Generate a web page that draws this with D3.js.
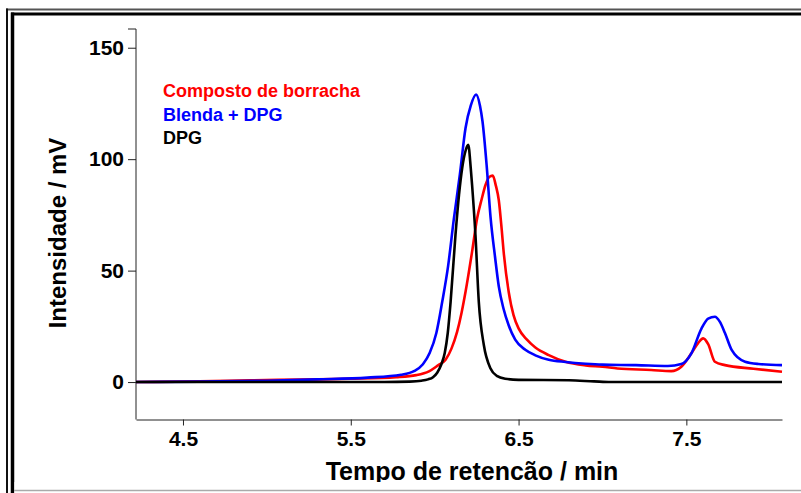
<!DOCTYPE html>
<html>
<head>
<meta charset="utf-8">
<script src="https://cdn.jsdelivr.net/npm/d3@7"></script>
<style>
  html, body { margin: 0; padding: 0; background: #fff; }
  svg { display: block; }
  text { font-family: "Liberation Sans", Arial, sans-serif; font-weight: bold; }
</style>
</head>
<body>
<svg id="chart" width="801" height="493"></svg>
<script>
// Retention time (min) and signal (mV) for each chromatogram
const compostoTime = [4.22, 4.6, 4.9, 5.2, 5.5, 5.77, 5.89, 5.966, 6.02, 6.065, 6.1, 6.134, 6.16, 6.184, 6.223, 6.253, 6.28, 6.303, 6.325, 6.346, 6.365, 6.382, 6.4, 6.411, 6.441, 6.47, 6.5, 6.55, 6.6, 6.68, 6.78, 6.9, 7.0, 7.09, 7.29, 7.41, 7.47, 7.53, 7.57, 7.6, 7.63, 7.67, 7.73, 7.9, 8.07];
const compostoSignal = [0.0, 0.3, 0.8, 1.1, 1.5, 2.2, 3.1, 4.8, 7.5, 10, 15, 22.6, 31, 40.5, 58.5, 73.5, 82, 88.4, 92, 92.6, 88, 81.7, 68, 58.5, 40.5, 30, 24.1, 19, 15.5, 12.1, 9.1, 7.5, 6.9, 6.1, 5.4, 4.9, 6.9, 12.9, 17.5, 19.6, 17, 9.1, 7.6, 6.0, 4.6];

const blendaTime = [4.22, 4.6, 5.0, 5.3, 5.6, 5.8, 5.88, 5.93, 5.97, 6.01, 6.045, 6.08, 6.114, 6.15, 6.184, 6.215, 6.247, 6.27, 6.285, 6.31, 6.333, 6.36, 6.382, 6.41, 6.441, 6.48, 6.54, 6.6, 6.68, 6.78, 6.9, 7.0, 7.2, 7.39, 7.47, 7.53, 7.59, 7.63, 7.67, 7.7, 7.73, 7.77, 7.85, 7.93, 8.07];
const blendaSignal = [0.0, 0.2, 0.6, 1.2, 2.0, 3.3, 5.0, 8.0, 13, 22, 36, 52, 73, 93, 114, 124, 129, 124, 117, 97, 74, 56, 43, 33, 25.5, 19, 14.5, 12, 10, 9.0, 8.2, 7.8, 7.6, 7.2, 8.1, 12.9, 24, 28.5, 29.3, 27, 22, 14.4, 9.1, 8.1, 7.6];

const dpgTime = [4.22, 5.7, 5.85, 5.92, 5.96, 5.99, 6.015, 6.04, 6.06, 6.078, 6.095, 6.124, 6.145, 6.164, 6.185, 6.2, 6.215, 6.223, 6.243, 6.263, 6.293, 6.333, 6.37, 6.42, 6.5, 6.8, 6.95, 7.05, 8.07];
const dpgSignal = [0, 0, 0.2, 0.6, 1.2, 2.2, 4.2, 8.0, 13, 22, 36, 66, 84, 96, 104, 106.4, 96, 88.4, 66, 36, 16.6, 6.1, 2.8, 1.5, 1.0, 0.8, 0.3, 0, 0];

const seriesNames = ["Composto de borracha", "Blenda + DPG", "DPG"];
const seriesColors = ["#ff0000", "#0000ff", "#000000"];

const xTicks = [4.5, 5.5, 6.5, 7.5];
const yTicks = [0, 50, 100, 150];
const xTitle = "Tempo de retencão / min";
const yTitle = "Intensidade / mV";

const svg = d3.select("#chart");

// Plot area
const plotLeft = 136, plotRight = 782, plotTop = 29, plotBottom = 419.5;
const x = d3.scaleLinear().domain([4.22, 8.07]).range([plotLeft, plotRight]);
const y = d3.scaleLinear().domain([-16.8, 158.4]).range([plotBottom, plotTop]);

// Double frame around the figure (open on the right)
svg.append("line").attr("x1", 6).attr("x2", 801).attr("y1", 9.5).attr("y2", 9.5)
  .attr("stroke", "#555").attr("stroke-width", 2);
svg.append("line").attr("x1", 7).attr("x2", 7).attr("y1", 8.5).attr("y2", 493)
  .attr("stroke", "#111").attr("stroke-width", 2);
svg.append("line").attr("x1", 11).attr("x2", 801).attr("y1", 14).attr("y2", 14)
  .attr("stroke", "#000").attr("stroke-width", 3);
svg.append("line").attr("x1", 12.5).attr("x2", 12.5).attr("y1", 12.5).attr("y2", 493)
  .attr("stroke", "#000").attr("stroke-width", 3.5);

// Axes
const xAxis = d3.axisBottom(x).tickValues(xTicks).tickFormat(d3.format(".1f"))
  .tickSize(6).tickSizeOuter(0).tickPadding(6);
const gx = svg.append("g").attr("transform", `translate(0,${plotBottom})`).call(xAxis);

const yAxis = d3.axisLeft(y).tickValues(yTicks).tickFormat(d3.format("d"))
  .tickSize(8).tickSizeOuter(0).tickPadding(4);
const gy = svg.append("g").attr("transform", `translate(${plotLeft},0)`).call(yAxis);
// top end cap only
gy.select(".domain").attr("d", `M-8,${plotTop}H0V${plotBottom}`);

[gx, gy].forEach(g => {
  g.attr("font-family", null).attr("font-size", null);
  g.selectAll("path, line").attr("stroke", "#222").attr("stroke-width", 1);
  g.selectAll("text").attr("fill", "#000").style("font-size", "21px");
});

// Chromatogram traces
const line = d3.line().x(d => x(d[0])).y(d => y(d[1])).curve(d3.curveMonotoneX);
const series = [
  d3.zip(compostoTime, compostoSignal),
  d3.zip(blendaTime, blendaSignal),
  d3.zip(dpgTime, dpgSignal)
];
series.forEach((pts, i) => {
  svg.append("path").datum(pts).attr("d", line)
    .attr("fill", "none").attr("stroke", seriesColors[i])
    .attr("stroke-width", 2.6).attr("stroke-linejoin", "round");
});

// Legend
const legendY = [97, 120.5, 144];
seriesNames.forEach((name, i) => {
  svg.append("text").attr("x", 163).attr("y", legendY[i])
    .attr("fill", seriesColors[i]).style("font-size", "18px").text(name);
});

// Axis titles
svg.append("text").attr("x", 472).attr("y", 479.5).attr("text-anchor", "middle")
  .style("font-size", "25px").attr("fill", "#000").text(xTitle);
svg.append("text").attr("transform", "translate(66,233) rotate(-90)")
  .attr("text-anchor", "middle").style("font-size", "24px").attr("fill", "#000").text(yTitle);

// Bottom edge of the figure
svg.append("rect").attr("x", 14.5).attr("y", 482).attr("width", 787).attr("height", 11).attr("fill", "#fff");
svg.append("line").attr("x1", 14).attr("x2", 801).attr("y1", 490.5).attr("y2", 490.5)
  .attr("stroke", "#aaa").attr("stroke-width", 1.5);
</script>
</body>
</html>
